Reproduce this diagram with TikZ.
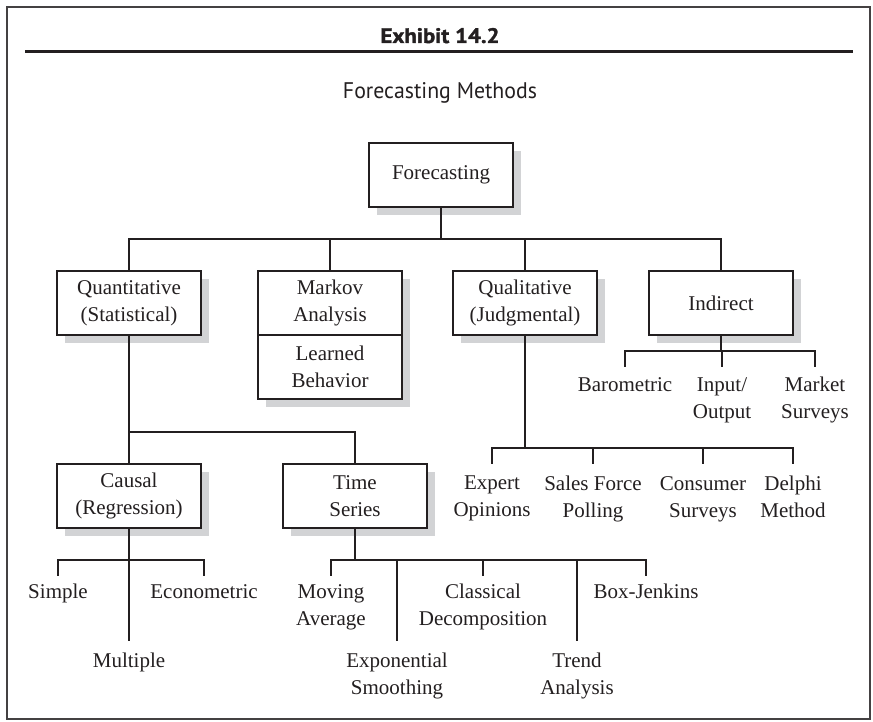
\documentclass[tikz,border=0pt]{standalone}
\usepackage{fontspec}
\setmainfont{Liberation Serif}
\newfontfamily\sansf{PT Sans}
\newfontfamily\exfont[FakeBold=1.5]{PT Sans Bold}
\usetikzlibrary{shadows}
\definecolor{ink}{RGB}{35,31,32}
\definecolor{shadegray}{RGB}{210,211,213}
\newcommand\serifsz{\fontsize{21}{27}\selectfont}
\begin{document}
\begin{tikzpicture}[x=1pt,y=-1pt,
  box/.style={draw=ink, line width=2.4pt, fill=white, minimum width=144pt, minimum height=64pt,
    inner sep=0pt, outer sep=0pt, align=center, font=\serifsz, text=ink,
    drop shadow={shadow xshift=8pt, shadow yshift=-8pt, fill=shadegray, opacity=1}},
  leaf/.style={inner sep=0pt, align=center, font=\serifsz, anchor=north, text=ink},
  link/.style={draw=ink, line width=2pt}]
\useasboundingbox (0,0) rectangle (873,722);
% frame and title
\draw[line width=1.6pt, ink!85] (7,7) rectangle (870,719);
\draw[line width=3pt, ink] (25,52) -- (853,52);
\node[anchor=base, inner sep=0pt, text=ink] (ttl) at (440,43)
  {\resizebox{119pt}{15pt}{\exfont Exhibit 14.2}};
\node[anchor=base, inner sep=0pt, text=ink] (sub) at (440,99)
  {\resizebox{194pt}{16pt}{\sansf Forecasting Methods}};
% boxes
\node[box] (fc) at (441,175) {Forecasting};
\node[box] (qn) at (129,303) {Quantitative\\(Statistical)};
\node[box] (mk) at (330,303) {Markov\\Analysis};
\node[box, anchor=north] (lb) at (mk.south) {Learned\\Behavior};
\node[box] (ql) at (525,303) {Qualitative\\(Judgmental)};
\node[box] (ind) at (721,303) {Indirect};
\node[box] (cs) at (129,496) {Causal\\(Regression)};
\node[box] (ts) at (355,496) {Time\\Series};
% leaves
\node[leaf] (bar) at (625,377) {Barometric};
\node[leaf] (io) at (722,377) {Input/\\Output};
\node[leaf] (mkt) at (815,377) {Market\\Surveys};
\node[leaf] (ex) at (492,476) {Expert\\Opinions};
\node[leaf] (sf) at (593,476) {Sales Force\\Polling};
\node[leaf] (cons) at (703,476) {Consumer\\Surveys};
\node[leaf] (del) at (793,476) {Delphi\\Method};
\node[leaf] (smp) at (58,584) {Simple};
\node[leaf] (eco) at (204,584) {Econometric};
\node[leaf] (mul) at (129,653) {Multiple};
\node[leaf] (mav) at (331,584) {Moving\\Average};
\node[leaf] (exs) at (397,653) {Exponential\\Smoothing};
\node[leaf] (cld) at (483,584) {Classical\\Decomposition};
\node[leaf] (tra) at (577,653) {Trend\\Analysis};
\node[leaf] (bj) at (646,584) {Box-Jenkins};
% connectors
\foreach \c in {qn,mk,ql,ind} \draw[link] (fc.south) -- ++(0,32) -| (\c.north);
\foreach \c in {cs,ts} \draw[link] (qn.south) -- ++(0,97) -| (\c.north);
\foreach \c in {bar,io,mkt} \draw[link] (ind.south) -- ++(0,16) -| ([yshift=10pt]\c.north);
\foreach \c in {ex,sf,cons,del} \draw[link] (ql.south) -- ++(0,113) -| ([yshift=12pt]\c.north);
\foreach \c in {smp,eco} \draw[link] (cs.south) -- ++(0,32) -| ([yshift=8pt]\c.north);
\draw[link] (cs.south) -- ([yshift=12pt]mul.north);
\foreach \c in {mav,cld,bj} \draw[link] (ts.south) -- ++(0,32) -| ([yshift=8pt]\c.north);
\foreach \c in {exs,tra} \draw[link] (ts.south) -- ++(0,32) -| ([yshift=12pt]\c.north);
\end{tikzpicture}
\end{document}
